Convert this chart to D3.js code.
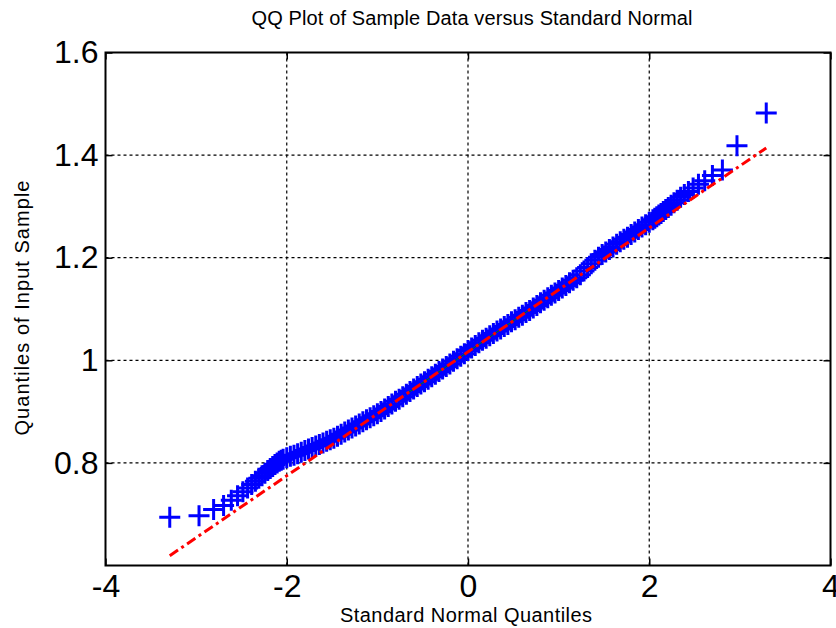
<!DOCTYPE html>
<html>
<head>
<meta charset="utf-8">
<script src="https://cdnjs.cloudflare.com/ajax/libs/d3/7.8.5/d3.min.js"></script>
<style>
body { margin: 0; background: #fff; }
svg { display: block; font-family: Arial, "Liberation Sans", Helvetica, sans-serif; }
</style>
</head>
<body>
<svg id="svg" width="836" height="628"></svg>
<script>
var theoQ = [
  -3.291, -2.968, -2.807, -2.697, -2.612, -2.543, -2.484, -2.432, -2.387, -2.346,
  -2.308, -2.273, -2.241, -2.210, -2.182, -2.155, -2.130, -2.106, -2.083, -2.061,
  -2.04, -2.00, -1.96, -1.92, -1.88, -1.84, -1.80, -1.76, -1.72, -1.68,
  -1.64, -1.60, -1.56, -1.52, -1.48, -1.44, -1.40, -1.36, -1.32, -1.28,
  -1.24, -1.20, -1.16, -1.12, -1.08, -1.04, -1.00, -0.96, -0.92, -0.88,
  -0.84, -0.80, -0.76, -0.72, -0.68, -0.64, -0.60, -0.56, -0.52, -0.48,
  -0.44, -0.40, -0.36, -0.32, -0.28, -0.24, -0.20, -0.16, -0.12, -0.08,
  -0.04, 0.00, 0.04, 0.08, 0.12, 0.16, 0.20, 0.24, 0.28, 0.32,
  0.36, 0.40, 0.44, 0.48, 0.52, 0.56, 0.60, 0.64, 0.68, 0.72,
  0.76, 0.80, 0.84, 0.88, 0.92, 0.96, 1.00, 1.04, 1.08, 1.12,
  1.16, 1.20, 1.24, 1.28, 1.32, 1.36, 1.40, 1.44, 1.48, 1.52,
  1.56, 1.60, 1.64, 1.68, 1.72, 1.76, 1.80, 1.84, 1.88, 1.92,
  1.96, 2.00, 2.04,
  2.061, 2.083, 2.106, 2.130, 2.155, 2.182, 2.210, 2.241, 2.273, 2.308,
  2.346, 2.387, 2.432, 2.484, 2.543, 2.612, 2.697, 2.807, 2.968, 3.291
];

// sample quantiles (y of each marker)
var sampleQ = [
  0.694, 0.697, 0.709, 0.717, 0.727, 0.736, 0.744, 0.751, 0.758, 0.764,
  0.770, 0.775, 0.780, 0.785, 0.789, 0.793, 0.797, 0.800, 0.803, 0.805,
  0.807, 0.810, 0.813, 0.815, 0.818, 0.821, 0.824, 0.827, 0.830, 0.833,
  0.836, 0.839, 0.842, 0.845, 0.848, 0.852, 0.856, 0.860, 0.864, 0.868,
  0.872, 0.876, 0.880, 0.884, 0.888, 0.892, 0.896, 0.900, 0.905, 0.910,
  0.915, 0.920, 0.924, 0.929, 0.934, 0.939, 0.944, 0.949, 0.954, 0.958,
  0.963, 0.968, 0.973, 0.978, 0.983, 0.988, 0.993, 0.998, 1.003, 1.008,
  1.013, 1.019, 1.024, 1.029, 1.034, 1.039, 1.043, 1.048, 1.052, 1.057,
  1.061, 1.066, 1.070, 1.075, 1.079, 1.084, 1.088, 1.093, 1.097, 1.102,
  1.107, 1.112, 1.117, 1.122, 1.127, 1.131, 1.136, 1.141, 1.146, 1.151,
  1.156, 1.161, 1.167, 1.174, 1.181, 1.188, 1.195, 1.201, 1.206, 1.211,
  1.216, 1.221, 1.226, 1.231, 1.236, 1.240, 1.245, 1.250, 1.255, 1.260,
  1.264, 1.269, 1.274,
  1.277, 1.280, 1.283, 1.286, 1.290, 1.294, 1.298, 1.302, 1.307, 1.312,
  1.318, 1.323, 1.329, 1.336, 1.343, 1.350, 1.360, 1.371, 1.418, 1.482
];

// reference line (dash-dot, extended) and the fit between the quartiles
var refX = [-3.291, 3.291];
var refY = [0.619, 1.414];
var quartX = [-0.6745, 0.6745];
var quartY = [0.935, 1.098];

var xTicks = [-4, -2, 0, 2, 4];
var yTicks = [0.8, 1, 1.2, 1.4, 1.6];
var xDomain = [-4, 4];
var yDomain = [0.6, 1.6];

var titleText = "QQ Plot of Sample Data versus Standard Normal";
var xLabelText = "Standard Normal Quantiles";
var yLabelText = "Quantiles of Input Sample";

var svg = d3.select("#svg");
// plot box (note: "top" is reserved on window, so use other names)
var pLeft = 105.5, pRight = 830.5, pTop = 52.5, pBottom = 565.5;

var x = d3.scaleLinear().domain(xDomain).range([pLeft, pRight]);
var y = d3.scaleLinear().domain(yDomain).range([pBottom, pTop]);

// dotted grid
var grid = svg.append("g")
    .attr("stroke", "#000")
    .attr("stroke-width", 1.2)
    .attr("stroke-dasharray", "3,3");

grid.selectAll(".gx")
    .data(xTicks.filter(function(d) { return d > xDomain[0] && d < xDomain[1]; }))
    .enter().append("line")
    .attr("x1", function(d) { return x(d); })
    .attr("x2", function(d) { return x(d); })
    .attr("y1", pTop).attr("y2", pBottom);

grid.selectAll(".gy")
    .data(yTicks.filter(function(d) { return d > yDomain[0] && d < yDomain[1]; }))
    .enter().append("line")
    .attr("y1", function(d) { return y(d); })
    .attr("y2", function(d) { return y(d); })
    .attr("x1", pLeft).attr("x2", pRight);

// axes: labels on bottom/left, inward ticks on all four sides
var fontTick = 32;

svg.append("g")
    .attr("transform", "translate(0," + pBottom + ")")
    .call(d3.axisBottom(x).tickValues(xTicks).tickSize(-7).tickPadding(9)
        .tickFormat(function(d) { return String(d); }));
svg.append("g")
    .attr("transform", "translate(" + pLeft + ",0)")
    .call(d3.axisLeft(y).tickValues(yTicks).tickSize(-7).tickPadding(7)
        .tickFormat(function(d) { return String(d); }));
svg.append("g")
    .attr("transform", "translate(0," + pTop + ")")
    .call(d3.axisTop(x).tickValues(xTicks).tickSize(-7).tickFormat(""));
svg.append("g")
    .attr("transform", "translate(" + pRight + ",0)")
    .call(d3.axisRight(y).tickValues(yTicks).tickSize(-7).tickFormat(""));

svg.selectAll(".domain").remove();
svg.selectAll(".tick line").attr("stroke", "#000").attr("stroke-width", 1.5);
svg.selectAll(".tick text")
    .attr("fill", "#000")
    .style("font-size", fontTick + "px")
    .style("font-family", "Arial, 'Liberation Sans', sans-serif");

// data markers (+)
var s = 10.5;
svg.append("g")
    .selectAll("path")
    .data(d3.range(theoQ.length))
    .enter().append("path")
    .attr("d", "M" + (-s) + ",0H" + s + "M0," + (-s) + "V" + s)
    .attr("transform", function(i) { return "translate(" + x(theoQ[i]) + "," + y(sampleQ[i]) + ")"; })
    .attr("stroke", "#0000ff")
    .attr("stroke-width", 3)
    .attr("fill", "none");

// thin line between quartiles
svg.append("line")
    .attr("x1", x(quartX[0])).attr("y1", y(quartY[0]))
    .attr("x2", x(quartX[1])).attr("y2", y(quartY[1]))
    .attr("stroke", "#008000")
    .attr("stroke-width", 1);

// extended reference line, dash-dot
svg.append("line")
    .attr("x1", x(refX[0])).attr("y1", y(refY[0]))
    .attr("x2", x(refX[1])).attr("y2", y(refY[1]))
    .attr("stroke", "#ff0000")
    .attr("stroke-width", 3)
    .attr("stroke-dasharray", "10,4,3,4");

// frame
svg.append("rect")
    .attr("x", pLeft).attr("y", pTop)
    .attr("width", pRight - pLeft).attr("height", pBottom - pTop)
    .attr("fill", "none")
    .attr("stroke", "#000")
    .attr("stroke-width", 2);

// title and axis labels
svg.append("text")
    .attr("x", 472).attr("y", 25)
    .attr("text-anchor", "middle")
    .style("font-size", "20px")
    .attr("textLength", 441).attr("lengthAdjust", "spacing")
    .text(titleText);

svg.append("text")
    .attr("x", 466).attr("y", 622)
    .attr("text-anchor", "middle")
    .style("font-size", "20px")
    .attr("textLength", 252).attr("lengthAdjust", "spacing")
    .text(xLabelText);

svg.append("text")
    .attr("transform", "translate(29,308)rotate(-90)")
    .attr("text-anchor", "middle")
    .style("font-size", "20px")
    .attr("textLength", 255).attr("lengthAdjust", "spacing")
    .text(yLabelText);
</script>
</body>
</html>
